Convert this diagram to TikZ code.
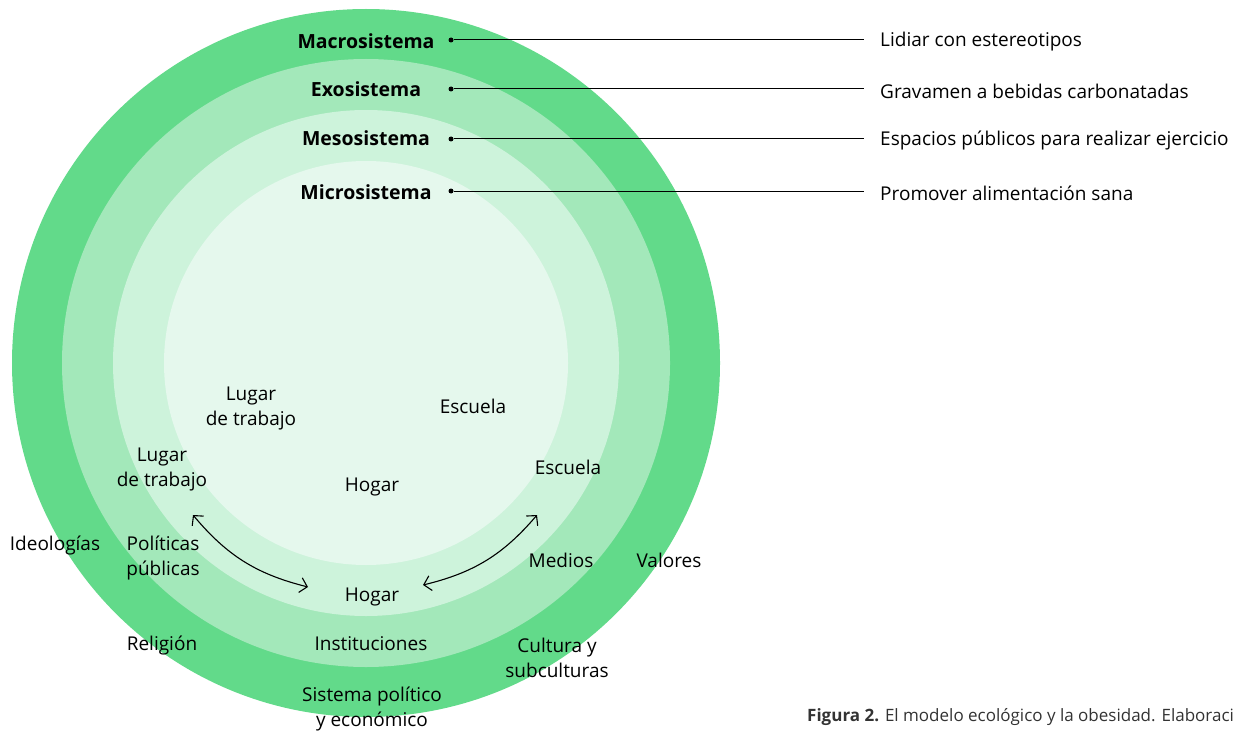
\documentclass[tikz,border=0pt]{standalone}
\usepackage{fontspec}
\setmainfont{Open Sans}
\usetikzlibrary{positioning, arrows.meta}
\definecolor{macroG}{RGB}{98,218,138}
\definecolor{exoG}{RGB}{163,232,186}
\definecolor{mesoG}{RGB}{205,243,219}
\definecolor{microG}{RGB}{229,248,237}
\tikzset{
  lbl/.style={font=\fontsize{19}{25}\selectfont, align=center, inner sep=0pt},
  syslbl/.style={lbl, font=\fontsize{19.5}{25}\selectfont\bfseries},
  tag/.style={lbl, anchor=west, yshift=-2pt},
  capt/.style={font=\fontsize{17}{20}\selectfont, inner sep=0pt, text=black!80},
  dot/.style={circle, fill=black, inner sep=0pt, minimum size=5pt},
  lead/.style={line width=1pt},
  link/.style={{Straight Barb[length=7pt,width=15pt]}-{Straight Barb[length=7pt,width=15pt]}, line width=1.1pt},
}

\begin{document}
\begin{tikzpicture}[x=1pt, y=-1pt]
  \useasboundingbox (0,0) rectangle (1238,730);

  % rings
  \fill[macroG] (366,363) circle[radius=354pt];
  \fill[exoG]   (366,363) circle[radius=304pt];
  \fill[mesoG]  (366,363) circle[radius=253pt];
  \fill[microG] (366,363) circle[radius=202pt];

  % systems and examples
  \node[syslbl] (macro) at (366,41) {Macrosistema};
  \node[syslbl] (exo) at (366,89) {Exosistema};
  \node[syslbl] (meso) at (366,138) {Mesosistema};
  \node[syslbl] (micro) at (366,192) {Microsistema};

  \node[dot] (d1) at (451,40) {};
  \node[dot] (d2) at (451,89) {};
  \node[dot] (d3) at (451,139) {};
  \node[dot] (d4) at (451,191) {};
  \coordinate (e1) at (864,40);
  \coordinate (e2) at (864,89);
  \coordinate (e3) at (864,139);
  \coordinate (e4) at (864,191);
  \draw[lead] (d1) -- (e1);
  \draw[lead] (d2) -- (e2);
  \draw[lead] (d3) -- (e3);
  \draw[lead] (d4) -- (e4);

  \node[tag, right=16pt of e1] (t1) {Lidiar con estereotipos};
  \node[tag, right=16pt of e2] (t2) {Gravamen a bebidas carbonatadas};
  \node[tag, right=16pt of e3] (t3) {Espacios públicos para realizar ejercicio};
  \node[tag, right=16pt of e4] (t4) {Promover alimentación sana};

  % microsystem
  \node[lbl] (work1) at (251,408) {Lugar\\de trabajo};
  \node[lbl] (school1) at (473,406) {Escuela};
  \node[lbl] (home1) at (372,487) {Hogar};

  % mesosystem
  \node[lbl] (work2) at (162,469) {Lugar\\de trabajo};
  \node[lbl] (school2) at (568,467) {Escuela};
  \node[lbl] (home2) at (372,597) {Hogar};
  \coordinate (a1) at (193,515);
  \coordinate (a2) at (308,587);
  \coordinate (b1) at (537,515);
  \coordinate (b2) at (423,585);
  \draw[link] (a1) to[bend right=18] (a2);
  \draw[link] (b1) to[bend left=18] (b2);

  % exosystem
  \node[lbl] (policy) at (163,558) {Políticas\\públicas};
  \node[lbl] (media) at (561,560) {Medios};
  \node[lbl] (inst) at (371,644) {Instituciones};

  % macrosystem
  \node[lbl] (ideo) at (55,545) {Ideologías};
  \node[lbl] (values) at (669,560) {Valores};
  \node[lbl] (relig) at (162,645) {Religión};
  \node[lbl] (cult) at (557,658) {Cultura y\\subculturas};
  \node[lbl] (polsys) at (372,709) {Sistema político\\y económico};

  \node[capt, anchor=base west] (cap) at (807,721) {\textbf{Figura 2.} El modelo ecológico y la obesidad. Elaboraci};
\end{tikzpicture}
\end{document}
